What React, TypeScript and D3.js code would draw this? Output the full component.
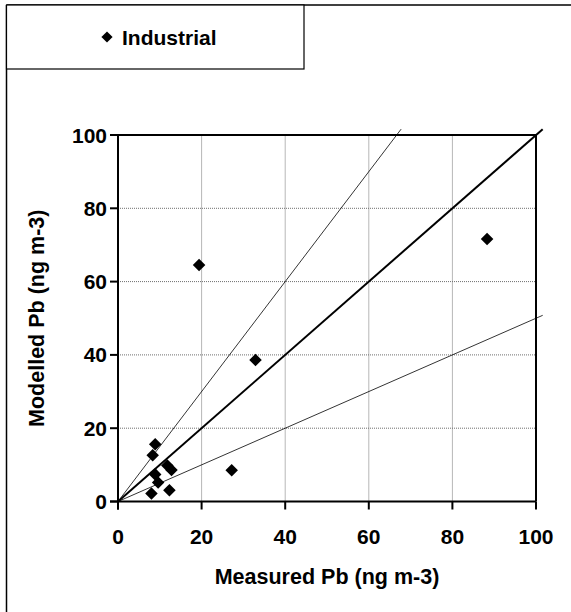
import React from "react";
import * as d3 from "d3";

// Industrial sites: measured vs modelled lead concentrations
const measured = [19.4, 88.3, 32.9, 27.2, 8.9, 8.3, 11.8, 12.8, 8.9, 9.6, 12.3, 8.0];
const modelled = [64.5, 71.6, 38.6, 8.5, 15.6, 12.6, 9.8, 8.6, 7.4, 5.2, 3.1, 2.2];
const ticks = [0, 20, 40, 60, 80, 100];
// agreement lines: y = slope * x
const slopes = [1.5, 1, 0.5];
const lineExtent = 101.6;
const seriesName = "Industrial";
const xTitle = "Measured Pb (ng m-3)";
const yTitle = "Modelled Pb (ng m-3)";

const W = 571;
const H = 612;
const FONT = "'Liberation Sans', Arial, sans-serif";

export default function App() {
  const x = d3.scaleLinear().domain([0, 100]).range([118, 536]);
  const y = d3.scaleLinear().domain([0, 100]).range([501.5, 135]);
  const diamond = d3.symbol().type(d3.symbolDiamond2).size(100)() as string;
  const legendDiamond = d3.symbol().type(d3.symbolDiamond2).size(80)() as string;
  const line = d3
    .line<[number, number]>()
    .x((d) => x(d[0]))
    .y((d) => y(d[1]));
  const tickLen = 8;

  return (
    <div style={{ position: "absolute", left: 0, top: 0 }}>
      <svg width={W} height={H} style={{ display: "block", background: "#fff" }}>
        {/* outer chart frame (top and left edges) */}
        <line x1={6.5} y1={5} x2={W} y2={5} stroke="#000" strokeWidth={1.5} />
        <line x1={6.5} y1={5} x2={6.5} y2={H} stroke="#000" strokeWidth={1.5} />

        {/* legend box */}
        <rect x={6.5} y={5} width={297.5} height={64} fill="#fff" stroke="#000" strokeWidth={1.2} />
        <path d={legendDiamond} transform={`translate(107,37)`} fill="#000" />
        <text x={122} y={44.5} fontFamily={FONT} fontWeight="bold" fontSize={21} fill="#000">
          {seriesName}
        </text>

        {/* gridlines */}
        {ticks
          .filter((t) => t > 0 && t < 100)
          .map((t) => (
            <g key={`g${t}`}>
              <line x1={x(t)} y1={y(0)} x2={x(t)} y2={y(100)} stroke="#6e6e6e" strokeWidth={1} strokeDasharray="1,1" />
              <line x1={x(0)} y1={y(t)} x2={x(100)} y2={y(t)} stroke="#6e6e6e" strokeWidth={1} strokeDasharray="1,1" />
            </g>
          ))}

        {/* plot area border (top and right) */}
        <line x1={x(0) - tickLen} y1={y(100)} x2={x(100)} y2={y(100)} stroke="#000" strokeWidth={2} />
        <line x1={x(100)} y1={y(100)} x2={x(100)} y2={y(0)} stroke="#000" strokeWidth={2} />

        {/* axes */}
        <line x1={x(0) - tickLen} y1={y(0)} x2={x(100)} y2={y(0)} stroke="#000" strokeWidth={2} />
        <line x1={x(0)} y1={y(100)} x2={x(0)} y2={y(0) + tickLen} stroke="#000" strokeWidth={2} />
        {ticks.map((t) => (
          <g key={`t${t}`}>
            <line x1={x(t)} y1={y(0)} x2={x(t)} y2={y(0) + tickLen} stroke="#000" strokeWidth={2} />
            <line x1={x(0) - tickLen} y1={y(t)} x2={x(0)} y2={y(t)} stroke="#000" strokeWidth={2} />
            <text
              x={x(t)}
              y={y(0) + 42}
              textAnchor="middle"
              fontFamily={FONT}
              fontWeight="bold"
              fontSize={21}
              fill="#000"
            >
              {t}
            </text>
            <text
              x={x(0) - 11}
              y={y(t) + 7.5}
              textAnchor="end"
              fontFamily={FONT}
              fontWeight="bold"
              fontSize={21}
              fill="#000"
            >
              {t}
            </text>
          </g>
        ))}

        {/* agreement lines */}
        {slopes.map((s) => {
          const xe = Math.min(lineExtent, lineExtent / s);
          return (
            <path
              key={`s${s}`}
              d={line([
                [0, 0],
                [xe, s * xe],
              ]) as string}
              fill="none"
              stroke="#000"
              strokeWidth={s === 1 ? 2 : 0.8}
            />
          );
        })}

        {/* points */}
        {measured.map((m, i) => (
          <path key={`p${i}`} d={diamond} transform={`translate(${x(m)},${y(modelled[i])})`} fill="#000" />
        ))}

        {/* axis titles */}
        <text
          x={(x(0) + x(100)) / 2}
          y={584}
          textAnchor="middle"
          fontFamily={FONT}
          fontWeight="bold"
          fontSize={21.5}
          fill="#000"
        >
          {xTitle}
        </text>
        <text
          transform={`translate(44,${(y(0) + y(100)) / 2}) rotate(-90)`}
          textAnchor="middle"
          fontFamily={FONT}
          fontWeight="bold"
          fontSize={21.5}
          fill="#000"
        >
          {yTitle}
        </text>
      </svg>
    </div>
  );
}
